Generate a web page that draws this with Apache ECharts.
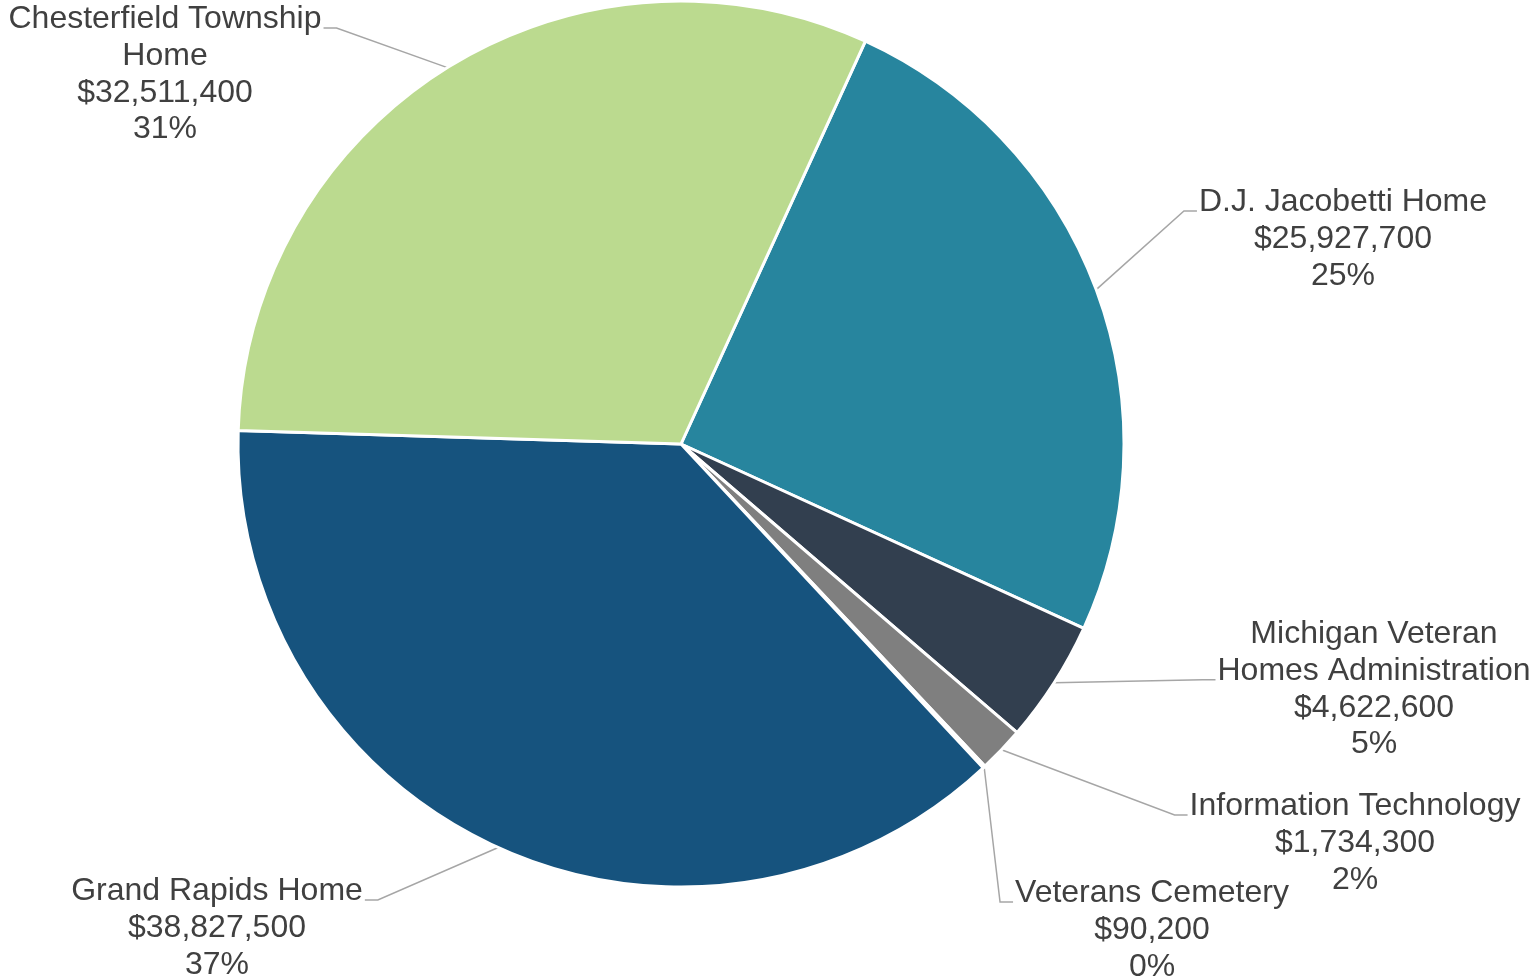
<!DOCTYPE html>
<html>
<head>
<meta charset="utf-8">
<script src="https://cdn.jsdelivr.net/npm/echarts@6/dist/echarts.min.js"></script>
<style>
html,body{margin:0;padding:0;background:#fff;}
#chart{width:1530px;height:979px;}
</style>
</head>
<body>
<div id="chart"></div>
<script>
// Data
const categories = [
  'D.J. Jacobetti Home',
  'Michigan Veteran\nHomes Administration',
  'Information Technology',
  'Veterans Cemetery',
  'Grand Rapids Home',
  'Chesterfield Township\nHome'
];
const values = [25927700, 4622600, 1734300, 90200, 38827500, 32511400];

// Styles / layout (not data)
const colors = ['#27859E', '#323F4F', '#7F7F7F', '#A5A5A5', '#16537E', '#BBDA8F'];
const LH = 36.7;
// [center x, top y, side (-1 = label left of pie, 1 = right), attach line index]
const labelLayoutCfg = [
  [1343, 184, 1, 0],
  [1374, 616, 1, 1],
  [1355, 788, 1, 0],
  [1152, 875, 1, 0],
  [217, 873, -1, 0],
  [165, 1, -1, 0]
];

const chart = echarts.init(document.getElementById('chart'));
const fmt = v => '$' + v.toLocaleString('en-US');

chart.setOption({
  animation: false,
  backgroundColor: '#ffffff',
  color: colors,
  series: [{
    type: 'pie',
    center: [681, 444],
    radius: 443,
    startAngle: 65.4,
    clockwise: true,
    percentPrecision: 0,
    avoidLabelOverlap: false,
    itemStyle: { borderColor: '#ffffff', borderWidth: 3 },
    label: {
      show: true,
      position: 'outside',
      fontFamily: 'Liberation Sans, Arial, sans-serif',
      fontSize: 32,
      lineHeight: LH,
      color: '#404040',
      align: 'center',
      formatter: p => p.name + '\n' + fmt(p.value) + '\n' + p.percent + '%'
    },
    labelLine: {
      show: true,
      length: 20,
      length2: 14,
      lineStyle: { color: '#A6A6A6', width: 1.5 }
    },
    labelLayout: function (params) {
      const c = labelLayoutCfg[params.dataIndex];
      const out = { x: c[0], y: c[1], align: 'center', verticalAlign: 'top' };
      const pts = params.labelLinePoints;
      if (pts && pts.length) {
        const w = params.labelRect.width;
        const edgeX = c[2] < 0 ? c[0] + w / 2 + 2 : c[0] - w / 2 - 2;
        const ay = c[1] + LH * c[3] + 27;
        const kneeX = edgeX - c[2] * 13;
        out.labelLinePoints = [pts[0].slice(), [kneeX, ay], [edgeX, ay]];
      }
      return out;
    },
    data: categories.map((n, i) => ({ name: n, value: values[i] }))
  }]
});
</script>
</body>
</html>
